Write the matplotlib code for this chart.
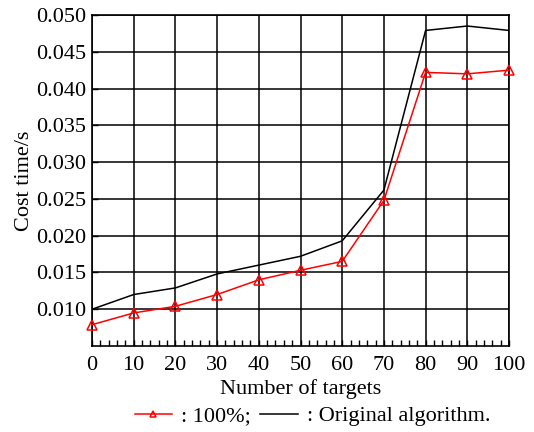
import matplotlib
matplotlib.use("Agg")
import matplotlib.pyplot as plt
from matplotlib.lines import Line2D
from matplotlib.ticker import MultipleLocator

plt.rcParams['font.family'] = ['Liberation Serif', 'DejaVu Serif']

targets = [0, 10, 20, 30, 40, 50, 60, 70, 80, 90, 100]
original = [0.0100, 0.0120, 0.0129, 0.0148, 0.0160, 0.0172, 0.0193, 0.0262, 0.0479, 0.0485, 0.0479]
improved = [0.0079, 0.0095, 0.0104, 0.0120, 0.0140, 0.0153, 0.0165, 0.0248, 0.0422, 0.0420, 0.0425]
xticks = [0, 10, 20, 30, 40, 50, 60, 70, 80, 90, 100]
yticks = [0.010, 0.015, 0.020, 0.025, 0.030, 0.035, 0.040, 0.045, 0.050]

fs = 16
fig = plt.figure(figsize=(5.34, 4.32), dpi=100)
ax = fig.add_axes([0.1723, 0.199, 0.7809, 0.7663])

ax.plot(targets, original, color='black', lw=1.1, zorder=3)
ax.plot(targets, improved, color='red', lw=1.1, marker='^', ms=7,
        mfc='none', mec='red', mew=1.1, zorder=4, clip_on=False)

ax.set_xlim(0, 100)
ax.set_ylim(0.005, 0.050)
ax.set_xticks(xticks)
ax.set_yticks(yticks)
ax.set_yticklabels([f"{v:.3f}" for v in yticks])
ax.xaxis.set_minor_locator(MultipleLocator(2))
ax.grid(True, which='major', color='black', lw=1.1)
ax.tick_params(which='major', direction='in', length=4, width=1.0, labelsize=fs, pad=4)
ax.tick_params(axis='x', which='major', pad=7)
ax.tick_params(which='minor', direction='in', length=4, width=1.0, top=False)
for s in ax.spines.values():
    s.set_linewidth(1.2)

ax.set_xlabel("Number of targets", fontsize=fs, labelpad=3)
ax.set_ylabel("Cost time/s", fontsize=fs, labelpad=2)

h1 = Line2D([], [], color='red', lw=1.1, marker='^', ms=5, mfc='none', mec='red', mew=1.1)
h2 = Line2D([], [], color='black', lw=1.1)
fig.legend([h1, h2], [": 100%;", ": Original algorithm."], loc='center',
           bbox_to_anchor=(0.585, 0.037), ncol=2, frameon=False, fontsize=fs,
           handlelength=1.7, handletextpad=0.4, columnspacing=0.4, borderaxespad=0)

fig.savefig("out.png", dpi=100)
